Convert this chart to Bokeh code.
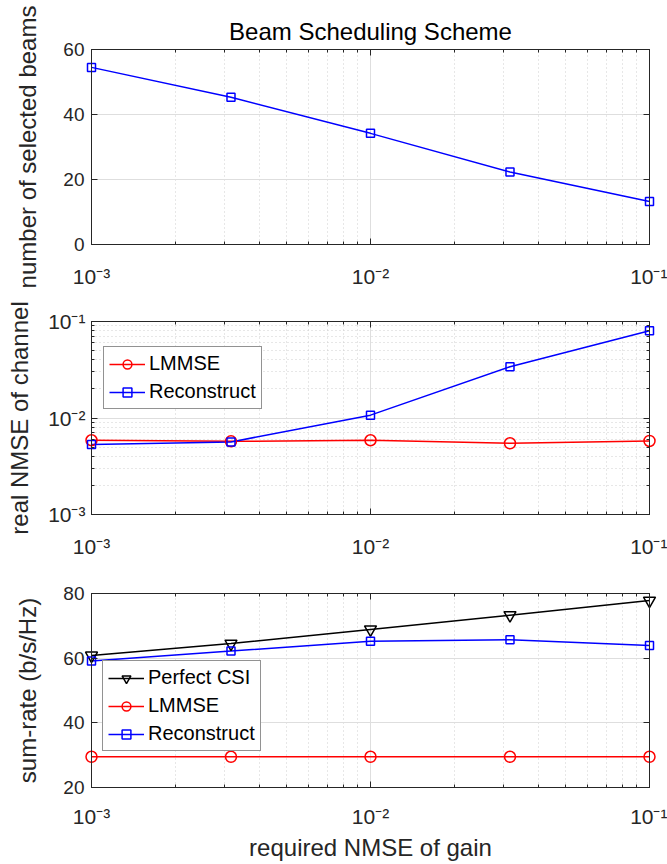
from bokeh.plotting import figure
from bokeh.layouts import column
from bokeh.models import (FixedTicker, CustomJSTickFormatter, Legend, LegendItem,
                          LogAxis, LinearAxis, Range1d)
from bokeh.embed import file_html
from bokeh.resources import INLINE

# ---------------- data ----------------
x_nmse = [0.001, 0.003162, 0.01, 0.03162, 0.1]

beams_selected = [54.5, 45.3, 34.2, 22.3, 13.2]

nmse_lmmse = [0.00588, 0.00573, 0.00588, 0.00547, 0.00578]
nmse_recon = [0.0053, 0.00565, 0.0107, 0.034, 0.0803]

rate_perfect = [60.8, 64.5, 68.9, 73.3, 77.8]
rate_lmmse = [29.5, 29.5, 29.5, 29.5, 29.5]
rate_recon = [59.1, 62.2, 65.2, 65.7, 63.9]

log_ticks = [0.001, 0.01, 0.1]
log_tick_labels = ["10⁻³", "10⁻²", "10⁻¹"]
beam_ticks = [0, 20, 40, 60]
rate_ticks = [20, 40, 60, 80]

title_text = "Beam Scheduling Scheme"
xlabel = "required NMSE of gain"
ylabels = ["number of selected beams", "real NMSE of channel", "sum-rate (b/s/Hz)"]

# ---------------- style ----------------
FONT = "Liberation Sans"
AX = "#262626"
RED, BLUE, BLACK = "#ff0000", "#0000ff", "#000000"
LW = 1.5
W = 667

log_minor = [m * d for d in [0.001, 0.01] for m in range(2, 10)]
log_fmt = CustomJSTickFormatter(
    args=dict(tvals=log_ticks, tlabels=log_tick_labels),
    code="""
    const i = tvals.findIndex(t => Math.abs(Math.log10(t) - Math.log10(tick)) < 1e-6);
    return i >= 0 ? tlabels[i] : '';
    """)


def style_axis(ax, label_size, standoff):
    ax.axis_line_color = AX
    ax.major_tick_line_color = AX
    ax.minor_tick_line_color = AX
    ax.major_tick_in = 6
    ax.major_tick_out = 0
    ax.minor_tick_in = 3
    ax.minor_tick_out = 0
    ax.major_label_text_font = FONT
    ax.major_label_text_font_size = label_size
    ax.major_label_text_color = AX
    ax.major_label_standoff = standoff
    ax.axis_label_text_font = FONT
    ax.axis_label_text_font_size = "24px"
    ax.axis_label_text_color = AX
    ax.axis_label_text_font_style = "normal"


def hidden_axis(cls, ticker, loc, p):
    ax = cls(ticker=ticker)
    style_axis(ax, "0px", 0)
    ax.major_label_text_alpha = 0
    p.add_layout(ax, loc)


def make_fig(height, top, bottom, ylog, y_range, yticks, ylab, minor_ygrid, ystand, xstand):
    p = figure(width=W, height=height, x_axis_type="log",
               y_axis_type="log" if ylog else "linear",
               x_range=Range1d(0.001, 0.1), y_range=y_range,
               output_backend="svg", toolbar_location=None,
               min_border_left=91, min_border_right=18,
               min_border_top=top, min_border_bottom=bottom)
    p.outline_line_color = AX
    p.outline_line_alpha = 1.0
    p.background_fill_color = "white"
    p.border_fill_color = "white"

    xt = FixedTicker(ticks=log_ticks, minor_ticks=log_minor)
    p.xaxis.ticker = xt
    p.xaxis.formatter = log_fmt
    style_axis(p.below[0], "21px", xstand)

    if ylog:
        yt = FixedTicker(ticks=log_ticks, minor_ticks=log_minor)
        p.yaxis.ticker = yt
        p.yaxis.formatter = log_fmt
        style_axis(p.left[0], "21px", 6)
    else:
        yt = FixedTicker(ticks=yticks, minor_ticks=[])
        p.yaxis.ticker = yt
        style_axis(p.left[0], "19px", 7)
    p.left[0].axis_label = ylab
    p.left[0].axis_label_standoff = ystand

    hidden_axis(LogAxis, FixedTicker(ticks=log_ticks, minor_ticks=log_minor), "above", p)
    if ylog:
        hidden_axis(LogAxis, FixedTicker(ticks=log_ticks, minor_ticks=log_minor), "right", p)
    else:
        hidden_axis(LinearAxis, FixedTicker(ticks=yticks, minor_ticks=[]), "right", p)

    p.xgrid.grid_line_color = "#dedede"
    p.xgrid.minor_grid_line_color = "#cfcfcf"
    p.xgrid.minor_grid_line_dash = "1 3"
    p.ygrid.grid_line_color = "#dedede"
    if minor_ygrid:
        p.ygrid.minor_grid_line_color = "#cfcfcf"
        p.ygrid.minor_grid_line_dash = "1 3"
    return p


def series(p, y, color, marker, size):
    l = p.line(x_nmse, y, line_color=color, line_width=LW)
    s = p.scatter(x_nmse, y, marker=marker, size=size, line_color=color,
                  fill_color=None, line_width=LW, level="guide")
    return [l, s]


def add_legend(p, items, loc):
    lg = Legend(items=[LegendItem(label=t, renderers=r) for t, r in items],
                location=loc)
    lg.label_text_font = FONT
    lg.label_text_font_size = "20px"
    lg.label_text_color = "#000000"
    lg.glyph_width = 36
    lg.glyph_height = 22
    lg.label_height = 22
    lg.label_standoff = 4
    lg.padding = 5
    lg.spacing = 5
    lg.margin = 0
    lg.border_line_color = AX
    lg.border_line_width = 1
    lg.background_fill_color = "white"
    lg.background_fill_alpha = 1.0
    p.add_layout(lg)


# ---- top ----  (page y 0..295, frame 49..244)
p1 = make_fig(295, 49, 51, False, Range1d(0, 60), beam_ticks, ylabels[0], False, 19, 20)
p1.title.text = title_text
p1.title.align = "center"
p1.title.text_font = FONT
p1.title.text_font_size = "24px"
p1.title.text_font_style = "normal"
p1.title.text_color = "#000000"
series(p1, beams_selected, BLUE, "square", 8)

# ---- middle ----  (page y 295..560, frame 321..514)
p2 = make_fig(265, 26, 46, True, Range1d(0.001, 0.1), None, ylabels[1], True, 12, 20)
r_l = series(p2, nmse_lmmse, RED, "circle", 11)
r_r = series(p2, nmse_recon, BLUE, "square", 8)
add_legend(p2, [("LMMSE", r_l), ("Reconstruct", r_r)], (12, 105))

# ---- bottom ----  (page y 560..864, frame 593..787)
p3 = make_fig(304, 33, 77, False, Range1d(20, 80), rate_ticks, ylabels[2], False, 19, 17)
p3.below[0].axis_label = xlabel
p3.below[0].axis_label_standoff = 3
r_p = series(p3, rate_perfect, BLACK, "inverted_triangle", 12)
r_l3 = series(p3, rate_lmmse, RED, "circle", 11)
r_r3 = series(p3, rate_recon, BLUE, "square", 8)
add_legend(p3, [("Perfect CSI", r_p), ("LMMSE", r_l3), ("Reconstruct", r_r3)], (11, 36))

layout = column(p1, p2, p3, spacing=0)
open("out.html", "w").write(file_html(layout, INLINE))
